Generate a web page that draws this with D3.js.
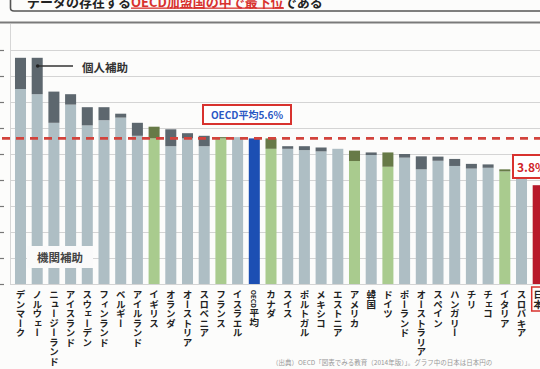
<!DOCTYPE html>
<html>
<head>
<meta charset="utf-8">
<script src="https://cdn.jsdelivr.net/npm/d3@7"></script>
<style>
  body { margin: 0; background: #fcfcfb; }
  svg { display: block; font-family: "Noto Sans CJK JP", "Noto Sans", sans-serif; }
</style>
</head>
<body>
<svg width="540" height="369"></svg>
<script>
// 国名（左から順）
const countries = ['デンマーク', 'ノルウェー', 'ニュージーランド', 'アイスランド', 'スウェーデン',
    'フィンランド', 'ベルギー', 'アイルランド', 'イギリス', 'オランダ', 'オーストリア', 'スロベニア',
    'フランス', 'イスラエル', 'OECD平均', 'カナダ', 'スイス', 'ポルトガル', 'メキシコ', 'エストニア',
    'アメリカ', '韓国', 'ドイツ', 'ポーランド', 'オーストラリア', 'スペイン', 'ハンガリー', 'チリ',
    'チェコ', 'イタリア', 'スロバキア', '日本']
// 機関補助 (%)
const institution = [7.5, 7.3, 6.2, 6.9, 6.1, 6.3, 6.4, 5.7, 5.6, 5.3, 5.6, 5.3,
    5.6, 5.65, 5.6, 5.2, 5.2, 5.15, 5.1, 5.2, 4.73, 4.96, 4.51, 4.86, 4.41, 4.74,
    4.54, 4.44, 4.47, 4.33, 4.2, 3.8]
// 個人補助 (%)
const individual = [1.2, 1.4, 1.2, 0.4, 0.7, 0.5, 0.15, 0.5, 0.45, 0.65, 0.2, 0.4,
    0.05, 0, 0, 0.4, 0.1, 0.15, 0.15, 0, 0.4, 0.1, 0.55, 0.14, 0.5, 0.16,
    0.27, 0.18, 0.13, 0.08, 0, 0]
const g7 = ['イギリス', 'フランス', 'カナダ', 'アメリカ', 'ドイツ', 'イタリア']
const yTicks = [0, 1, 2, 3, 4, 5, 6, 7, 8, 9]
const oecdAverage = 5.6
const japanValue = 3.8

const svg = d3.select('svg')
const width = 540

const x = d3.scaleBand().domain(countries).range([12.15, 546.55])
    .paddingInner(0.34).paddingOuter(0.17)
const y = d3.scaleLinear().domain([0, 9]).range([284, 50])

// 上部の見出し（写真では上が切れている）
const head = svg.append('text').attr('x', 27).attr('y', 6.5)
    .attr('font-size', 13).attr('font-weight', 'bold').attr('fill', '#222')
head.append('tspan').text('データの存在する')
head.append('tspan').attr('fill', '#d8322e').attr('text-decoration', 'underline')
    .text('OECD加盟国の中で最下位')
head.append('tspan').text('である')
svg.append('path').attr('d', 'M10.5,0 V8 Q10.5,11 14,11 H540')
    .attr('fill', 'none').attr('stroke', '#555').attr('stroke-width', 1.6)

svg.append('line').attr('x1', 0).attr('x2', width).attr('y1', 22.5).attr('y2', 22.5)
    .attr('stroke', '#7a7a7a').attr('stroke-width', 2)
svg.append('line').attr('x1', 10.5).attr('x2', 10.5).attr('y1', 24).attr('y2', 284)
    .attr('stroke', '#d6d6d6').attr('stroke-width', 1)

// グリッド
const yAxis = d3.axisLeft(y).tickValues(yTicks).tickSize(-(width - 10)).tickFormat('')
const gAxis = svg.append('g').attr('transform', 'translate(10,0)').call(yAxis)
gAxis.select('.domain').remove()
gAxis.selectAll('.tick line').attr('stroke', '#d4d4d4')
gAxis.selectAll('.tick').append('line').attr('x1', -10).attr('x2', -6)
    .attr('stroke', '#777').attr('stroke-width', 1.2)

const baseColor = (c) => c === 'OECD平均' ? '#1c4fb3' : c === '日本' ? '#b8192a'
    : g7.includes(c) ? '#a9cb8e' : '#aebec4'
const topColor = (c) => g7.includes(c) ? '#677a47' : '#5d676e'

const bars = svg.append('g')
bars.selectAll('rect.inst').data(countries).join('rect').attr('class', 'inst')
    .attr('x', (d) => x(d)).attr('width', x.bandwidth())
    .attr('y', (d, i) => y(institution[i]))
    .attr('height', (d, i) => y(0) - y(institution[i]))
    .attr('fill', (d) => baseColor(d))
bars.selectAll('rect.ind').data(countries).join('rect').attr('class', 'ind')
    .attr('x', (d) => x(d)).attr('width', x.bandwidth())
    .attr('y', (d, i) => y(institution[i] + individual[i]))
    .attr('height', (d, i) => y(institution[i]) - y(institution[i] + individual[i]))
    .attr('fill', (d) => topColor(d))

// OECD平均の破線
svg.append('line').attr('x1', 2).attr('x2', width)
    .attr('y1', y(oecdAverage)).attr('y2', y(oecdAverage))
    .attr('stroke', '#d2433c').attr('stroke-width', 2.6).attr('stroke-dasharray', '8,6')

// x軸ラベル（縦書き）
const labels = svg.append('g').selectAll('text').data(countries).join('text')
    .attr('x', (d) => x(d) + x.bandwidth() / 2).attr('y', 290)
    .style('writing-mode', 'vertical-rl')
    .attr('font-size', 9.5).attr('font-weight', 'bold').attr('fill', '#222')
labels.filter((d) => !d.startsWith('OECD')).text((d) => d)
labels.filter((d) => d.startsWith('OECD')).each(function (d) {
    d3.select(this).append('tspan').attr('font-size', 6.5).text(d.slice(0, 4))
    d3.select(this).append('tspan').text(d.slice(4))
})
svg.append('rect').attr('x', x('日本') - 1).attr('y', 287)
    .attr('width', x.bandwidth() + 4).attr('height', 24)
    .attr('fill', 'none').attr('stroke', '#d8322e').attr('stroke-width', 1.5)

// 注記
svg.append('line').attr('x1', x('ノルウェー') + 6).attr('x2', 73).attr('y1', 66).attr('y2', 66)
    .attr('stroke', '#333').attr('stroke-width', 1.5)
svg.append('circle').attr('cx', x('ノルウェー') + 6).attr('cy', 66).attr('r', 1.8).attr('fill', '#222')
svg.append('text').attr('x', 82).attr('y', 72).attr('font-size', 11.5)
    .attr('font-weight', 'bold').attr('fill', '#333').text('個人補助')

svg.append('rect').attr('x', 27).attr('y', 246).attr('width', 66).attr('height', 22).attr('fill', '#fafafa')
svg.append('text').attr('x', 60).attr('y', 261.5).attr('text-anchor', 'middle').attr('font-size', 11.5)
    .attr('font-weight', 'bold').attr('fill', '#444').text('機関補助')

svg.append('rect').attr('x', 203).attr('y', 105).attr('width', 88).attr('height', 19)
    .attr('fill', '#fff').attr('stroke', '#d8322e').attr('stroke-width', 2)
svg.append('text').attr('x', 247).attr('y', 118.5).attr('text-anchor', 'middle').attr('font-size', 10)
    .attr('font-weight', 'bold').attr('fill', '#2b58c4').text(`OECD平均${oecdAverage}%`)

svg.append('rect').attr('x', 513).attr('y', 155).attr('width', 40).attr('height', 23)
    .attr('fill', '#fff').attr('stroke', '#d8322e').attr('stroke-width', 2)
svg.append('text').attr('x', 517).attr('y', 171.5).attr('font-size', 12)
    .attr('font-weight', 'bold').attr('fill', '#d0262a').text(`${japanValue}%`)

svg.append('text').attr('x', 272).attr('y', 365).attr('font-size', 6.5).attr('fill', '#999')
    .text('（出典）OECD「図表でみる教育（2014年版）」。グラフ中の日本は日本円の')
</script>
</body>
</html>
